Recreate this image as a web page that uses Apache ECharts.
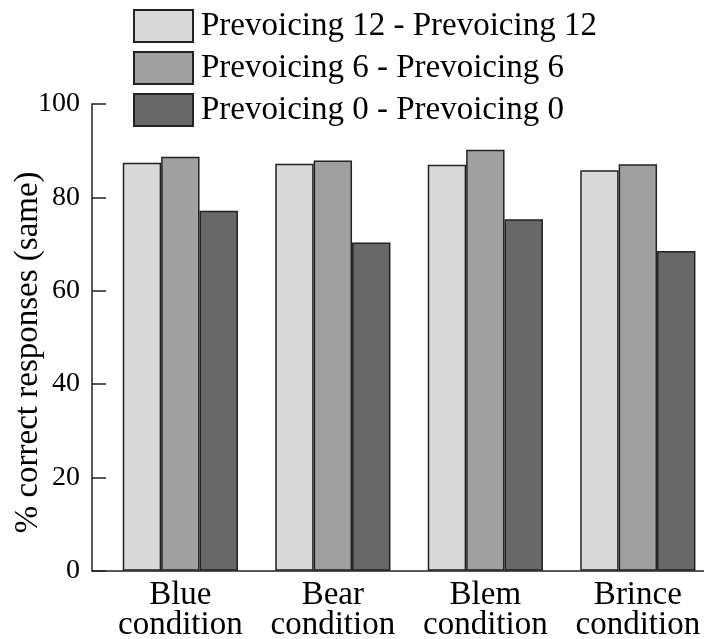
<!DOCTYPE html>
<html>
<head>
<meta charset="utf-8">
<script src="https://cdn.jsdelivr.net/npm/echarts@6/dist/echarts.min.js"></script>
<style>html,body{margin:0;padding:0;background:#fff}#c{width:704px;height:639px}</style>
</head>
<body>
<div id="c"></div>
<script>
const categories = ['Blue\ncondition', 'Bear\ncondition', 'Blem\ncondition', 'Brince\ncondition'];
const seriesNames = ['Prevoicing 12 - Prevoicing 12', 'Prevoicing 6 - Prevoicing 6', 'Prevoicing 0 - Prevoicing 0'];
const prevoicing12 = [87.4, 87.2, 87.0, 85.8];
const prevoicing6 = [88.7, 87.9, 90.2, 87.1];
const prevoicing0 = [77.1, 70.3, 75.3, 68.5];
const yTicks = [0, 20, 40, 60, 80, 100];

const FONT = "'Liberation Serif', 'Times New Roman', serif";
const colors = ['#d9d9d9', '#a0a0a0', '#686868'];
const values = [prevoicing12, prevoicing6, prevoicing0];

const chart = echarts.init(document.getElementById('c'));
chart.setOption({
  animation: false,
  backgroundColor: '#fff',
  legend: {
    orient: 'vertical',
    left: 133, top: 9, padding: 0,
    itemWidth: 59, itemHeight: 32, itemGap: 8,
    icon: 'rect',
    textStyle: { fontFamily: FONT, fontSize: 33, color: '#000', padding: [0, 0, 0, 3] },
    data: seriesNames
  },
  grid: [
    { left: 92, top: 104, width: 612, height: 466.7, outerBoundsMode: 'none', containLabel: false },
    { left: 104.1, top: 104, width: 610, height: 466.7, outerBoundsMode: 'none', containLabel: false }
  ],
  xAxis: [
    { type: 'category', gridIndex: 0, data: categories,
      axisLine: { lineStyle: { color: '#222', width: 1.5 } },
      axisTick: { show: false }, axisLabel: { show: false } },
    { type: 'category', gridIndex: 1, data: categories,
      axisLine: { show: false }, axisTick: { show: false },
      axisLabel: { interval: 0, fontFamily: FONT, fontSize: 33, color: '#000', lineHeight: 30, margin: 10 } }
  ],
  yAxis: [
    { type: 'value', gridIndex: 0, min: 0, max: 100, interval: 20,
      name: '% correct responses (same)', nameLocation: 'middle', nameGap: 47, nameMoveOverlap: false,
      nameTextStyle: { fontFamily: FONT, fontSize: 33, color: '#000', padding: [0, 30, 0, 0] },
      axisLine: { show: true, lineStyle: { color: '#222', width: 1.5 } },
      axisTick: { show: true, inside: true, length: 14, lineStyle: { color: '#222', width: 1.5 } },
      axisLabel: { fontFamily: FONT, fontSize: 28, color: '#000', margin: 12,
        formatter: v => yTicks.includes(v) ? String(v) : '' },
      splitLine: { show: false } },
    { type: 'value', gridIndex: 1, min: 0, max: 100, interval: 20, show: false }
  ],
  series: seriesNames.map((n, i) => ({
    name: n, type: 'bar', xAxisIndex: 1, yAxisIndex: 1,
    data: values[i], barWidth: 38.4, barGap: '0%',
    itemStyle: { color: colors[i], borderColor: '#222', borderWidth: 1.5 }
  }))
});
</script>
</body>
</html>
